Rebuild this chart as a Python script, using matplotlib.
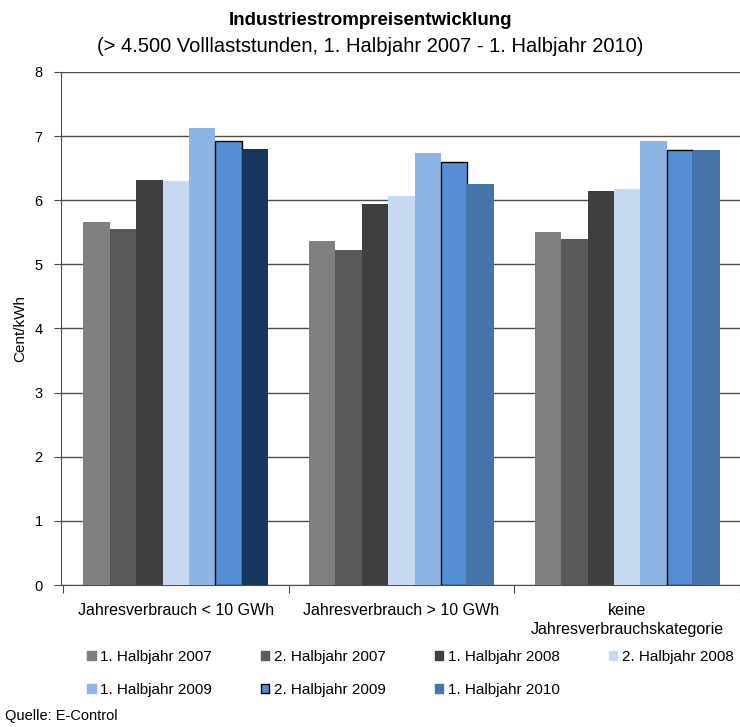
import numpy as np
import matplotlib.pyplot as plt
from matplotlib.patches import Patch

plt.rcParams['font.family'] = ['Liberation Sans', 'DejaVu Sans']

categories = ['Jahresverbrauch < 10 GWh', 'Jahresverbrauch > 10 GWh',
              'keine\nJahresverbrauchskategorie']
series = ['1. Halbjahr 2007', '2. Halbjahr 2007', '1. Halbjahr 2008',
          '2. Halbjahr 2008', '1. Halbjahr 2009', '2. Halbjahr 2009',
          '1. Halbjahr 2010']
values = [
    [5.66, 5.36, 5.50],
    [5.55, 5.22, 5.40],
    [6.32, 5.94, 6.14],
    [6.30, 6.07, 6.18],
    [7.12, 6.73, 6.92],
    [6.93, 6.60, 6.78],
    [6.80, 6.25, 6.79],
]
colors = ['#7f7f7f', '#595959', '#3f3f3f', '#c6d9f1', '#8eb4e3', '#558ed5', '#4673a8']
# first group's 2010 bar is drawn in a darker navy in the original
last_bar_colors = ['#17375e', '#4673a8', '#4673a8']

fig = plt.figure(figsize=(7.4, 7.27), dpi=100)
ax = fig.add_axes([0.082, 0.1953, 0.918, 0.7057])

x = np.arange(len(categories))
w = 0.117
for i, (name, vals) in enumerate(zip(series, values)):
    pos = x + (i - 3) * w
    if i == 6:
        cols = last_bar_colors
    else:
        cols = [colors[i]] * len(categories)
    edge = 'black' if i == 5 else 'none'
    ax.bar(pos, vals, width=w, color=cols, edgecolor=edge, linewidth=1.0, zorder=3)

ax.set_ylim(0, 8)
ax.set_xlim(-0.51, 2.44)
ax.set_yticks(range(0, 9))
ax.yaxis.grid(True, color='#4d4d4d', linewidth=1.0, zorder=0)
ax.set_axisbelow(True)
for s in ['top', 'right']:
    ax.spines[s].set_visible(False)
for s in ['left', 'bottom']:
    ax.spines[s].set_color('#4d4d4d')

ax.set_xticks([-0.5, 0.5, 1.5, 2.5])
ax.set_xticklabels([])
ax.set_xticks(x, minor=True)
ax.set_xticklabels(categories, minor=True, fontsize=11.5, linespacing=1.3)
ax.tick_params(axis='x', which='minor', length=0, pad=13)
ax.tick_params(axis='x', which='major', length=6, color='#4d4d4d')
ax.tick_params(axis='y', labelsize=10.5, length=5, color='#4d4d4d', pad=8)
ax.set_ylabel('Cent/kWh', fontsize=11, labelpad=5)

fig.text(0.5, 0.965, 'Industriestrompreisentwicklung', ha='center',
         fontsize=13.5, fontweight='bold')
fig.text(0.5, 0.929, '(> 4.500 Volllaststunden, 1. Halbjahr 2007 - 1. Halbjahr 2010)',
         ha='center', fontsize=14.5)

handles = []
for i, name in enumerate(series):
    edge = 'black' if i == 5 else colors[i]
    handles.append(Patch(facecolor=colors[i], edgecolor=edge, label=name))
order = [0, 4, 1, 5, 2, 6, 3]
fig.legend([handles[k] for k in order], [series[k] for k in order],
           ncol=4, loc='upper left', bbox_to_anchor=(0.118, 0.1055),
           frameon=False, fontsize=11, handlelength=0.55, handleheight=0.55,
           handletextpad=0.3, columnspacing=3.2, labelspacing=1.2,
           borderpad=0, borderaxespad=0)

fig.text(0.007, 0.01, 'Quelle: E-Control', fontsize=10.5)

fig.savefig('out.png', dpi=100)
